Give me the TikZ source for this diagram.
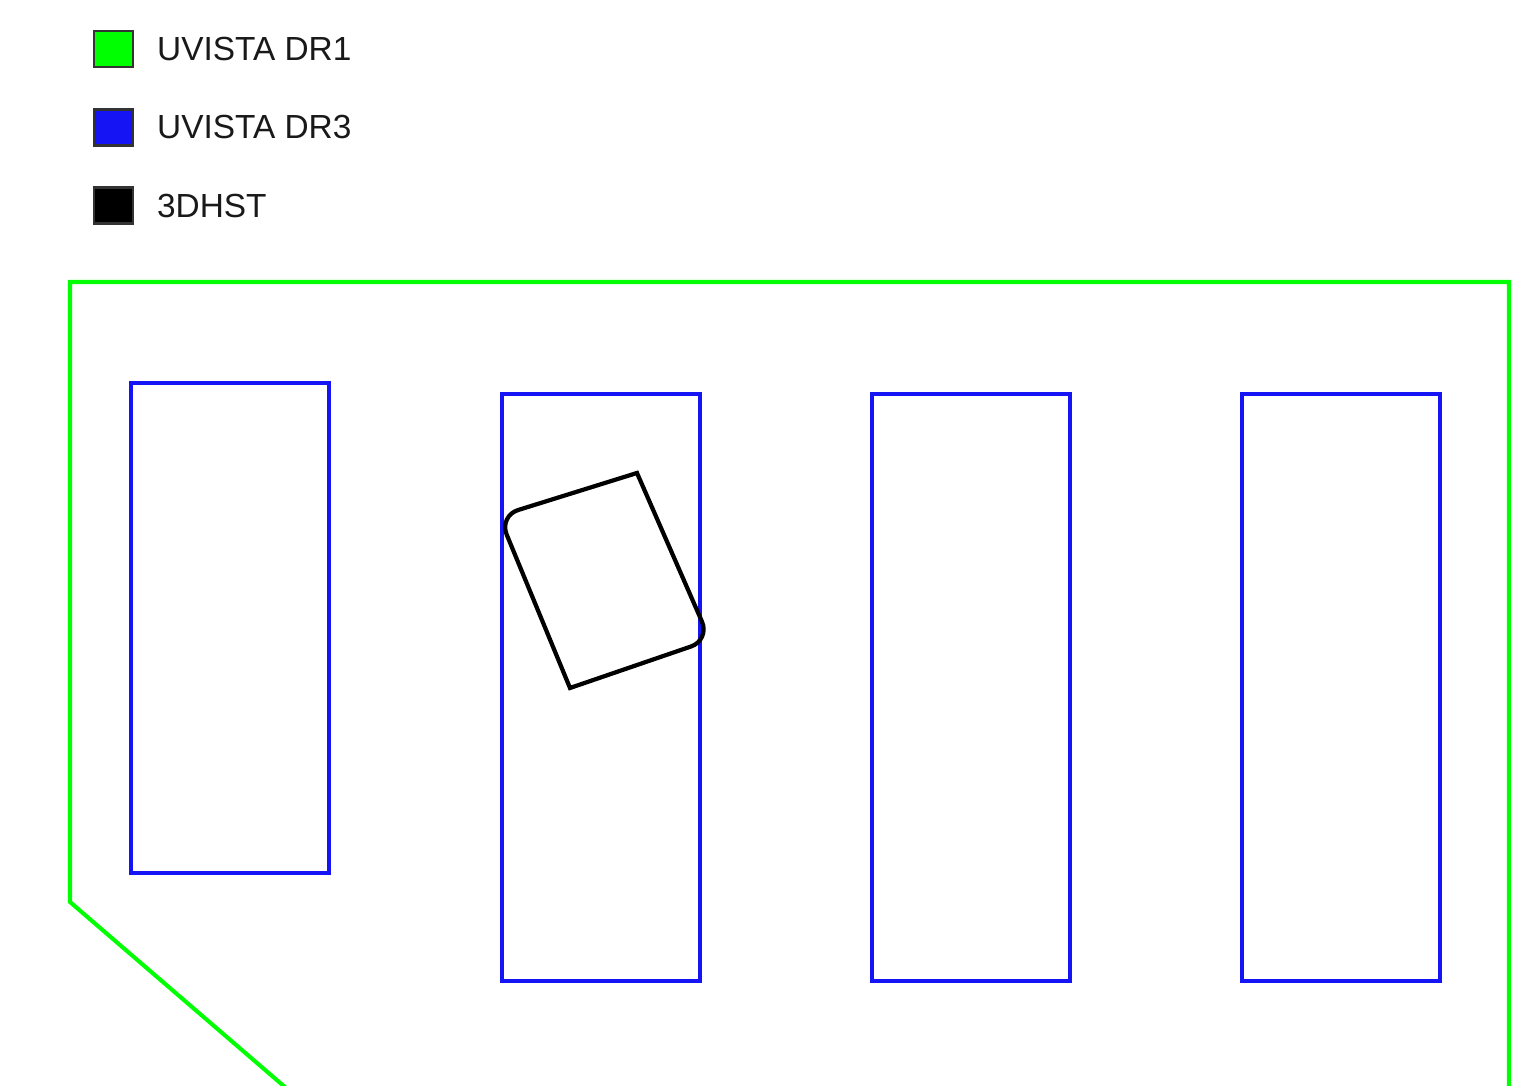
\documentclass[tikz,border=0pt]{standalone}
\usepackage{fontspec}
\setmainfont{Liberation Sans}
\usetikzlibrary{positioning}

\definecolor{uvgreen}{RGB}{0,255,0}
\definecolor{uvblue}{RGB}{20,20,245}

\begin{document}
\begin{tikzpicture}[x=0.01cm, y=-0.01cm,
    legkey/.style={draw=black!80, line width=0.8pt, minimum width=0.39cm, minimum height=0.36cm, inner sep=0pt},
    legtext/.style={inner sep=0pt, font=\fontsize{9.5}{11}\selectfont, text=black!90},
    dronefield/.style={draw=uvgreen, line width=1.15pt, line join=miter},
    drthreefield/.style={draw=uvblue, line width=1pt},
    hstfield/.style={draw=black, line width=1.2pt}]
    % cadre de l'image
    \clip (0,0) rectangle (1538,1086);

    % legende
    \node[legkey, fill=uvgreen] (keyone) at (113.5,49) {};
    \node[legkey, fill=uvblue, below=0.395cm of keyone] (keythree) {};
    \node[legkey, fill=black, below=0.395cm of keythree] (keyhst) {};
    \node[legtext, right=0.22cm of keyone] (labone) {UVISTA DR1};
    \node[legtext, right=0.22cm of keythree] (labthree) {UVISTA DR3};
    \node[legtext, right=0.22cm of keyhst] (labhst) {3DHST};

    % UltraVISTA DR1
    \draw[dronefield] (300,1100) -- (70,902) -- (70,282) -- (1509,282) -- (1509,1100);

    % UltraVISTA DR3, les quatre bandes
    \draw[drthreefield] (131,383) rectangle (329,873);
    \foreach \xl in {502,872,1242}
        \draw[drthreefield] (\xl,394) rectangle (\xl+198,981);

    % champ 3D-HST
    \draw[hstfield] (637,473) [rounded corners=0.2cm] -- (499,516) [sharp corners] -- (570,688) [rounded corners=0.2cm] -- (710,640) [sharp corners] -- cycle;
\end{tikzpicture}
\end{document}
